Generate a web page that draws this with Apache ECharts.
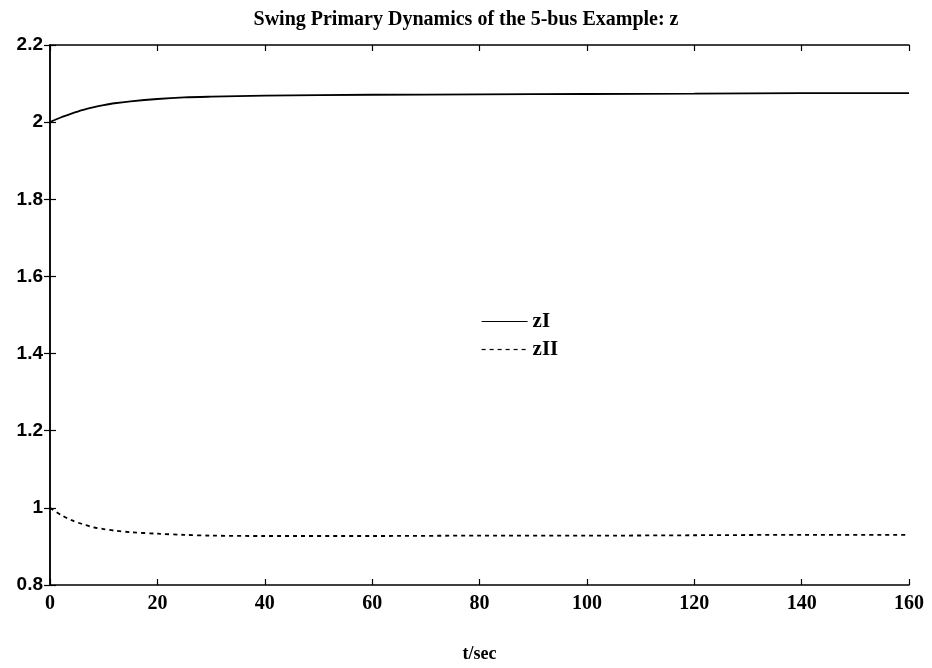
<!DOCTYPE html>
<html><head><meta charset="utf-8">
<script src="https://cdn.jsdelivr.net/npm/echarts@6/dist/echarts.min.js"></script>
<style>html,body{margin:0;padding:0;background:#fff}#c{width:932px;height:668px}</style>
</head><body><div id="c"></div>
<script>
const titleText = "Swing Primary Dynamics of the 5-bus Example: z";
const xLabel = "t/sec";
const tValues = [0, 2, 4, 6, 8, 10, 12, 15, 20, 25, 30, 40, 60, 80, 100, 120, 140, 160];
const zI  = [2.000, 2.012, 2.022, 2.031, 2.038, 2.044, 2.049, 2.054, 2.060, 2.064, 2.066, 2.069, 2.071, 2.072, 2.073, 2.074, 2.075, 2.075];
const zII = [1.000, 0.982, 0.968, 0.958, 0.950, 0.945, 0.941, 0.937, 0.933, 0.930, 0.928, 0.927, 0.927, 0.928, 0.928, 0.929, 0.930, 0.930];
const seriesNames = ["zI", "zII"];

const serif = "'Liberation Serif', 'DejaVu Serif', serif";
const sans = "'Liberation Sans', Arial, sans-serif";
const chart = echarts.init(document.getElementById('c'));
const pair = arr => tValues.map((t, i) => [t, arr[i]]);
const axisLineStyle = { show: true, lineStyle: { color: '#000', width: 1.5 } };
const tickStyle = { show: true, inside: true, length: 6, lineStyle: { color: '#000', width: 1.2 } };
chart.setOption({
  animation: false,
  backgroundColor: '#fff',
  title: { text: titleText, left: 'center', top: 5,
    textStyle: { fontFamily: serif, fontSize: 20, fontWeight: 'bold', color: '#000' } },
  grid: { left: 50, right: 23, top: 45, bottom: 81 },
  legend: {
    orient: 'vertical', left: 476, top: 306, itemWidth: 46, itemHeight: 18, itemGap: 7,
    itemStyle: { opacity: 0 },
    lineStyle: { width: 1.2 },
    textStyle: { fontFamily: serif, fontSize: 21, fontWeight: 'bold', color: '#000' },
    data: seriesNames
  },
  xAxis: [
    { type: 'value', min: 0, max: 160, interval: 20, position: 'bottom',
      name: xLabel, nameLocation: 'middle', nameGap: 60,
      nameTextStyle: { fontFamily: serif, fontSize: 18, fontWeight: 'bold', color: '#000' },
      axisLine: axisLineStyle, axisTick: tickStyle, splitLine: { show: false },
      axisLabel: { fontFamily: serif, fontSize: 20, fontWeight: 'bold', color: '#000', margin: 9 } },
    { type: 'value', min: 0, max: 160, interval: 20, position: 'top',
      axisLine: axisLineStyle, axisTick: tickStyle, splitLine: { show: false },
      axisLabel: { show: false } }
  ],
  yAxis: [
    { type: 'value', min: 0.8, max: 2.2, interval: 0.2, position: 'left',
      axisLine: axisLineStyle, axisTick: tickStyle, splitLine: { show: false },
      axisLabel: { fontFamily: sans, fontSize: 19, fontWeight: 'bold', color: '#000', margin: 7,
        formatter: v => String(Math.round(v * 10) / 10) } },
    { type: 'value', min: 0.8, max: 2.2, interval: 0.2, position: 'right',
      axisLine: axisLineStyle, axisTick: tickStyle, splitLine: { show: false },
      axisLabel: { show: false } }
  ],
  series: [
    { name: seriesNames[0], type: 'line', data: pair(zI), smooth: 0.3, symbol: 'none',
      lineStyle: { color: '#000', width: 1.8, type: 'solid' }, itemStyle: { color: '#000' } },
    { name: seriesNames[1], type: 'line', data: pair(zII), smooth: 0.3, symbol: 'none',
      lineStyle: { color: '#000', width: 1.8, type: [4, 4] }, itemStyle: { color: '#000' } }
  ]
});
</script></body></html>
